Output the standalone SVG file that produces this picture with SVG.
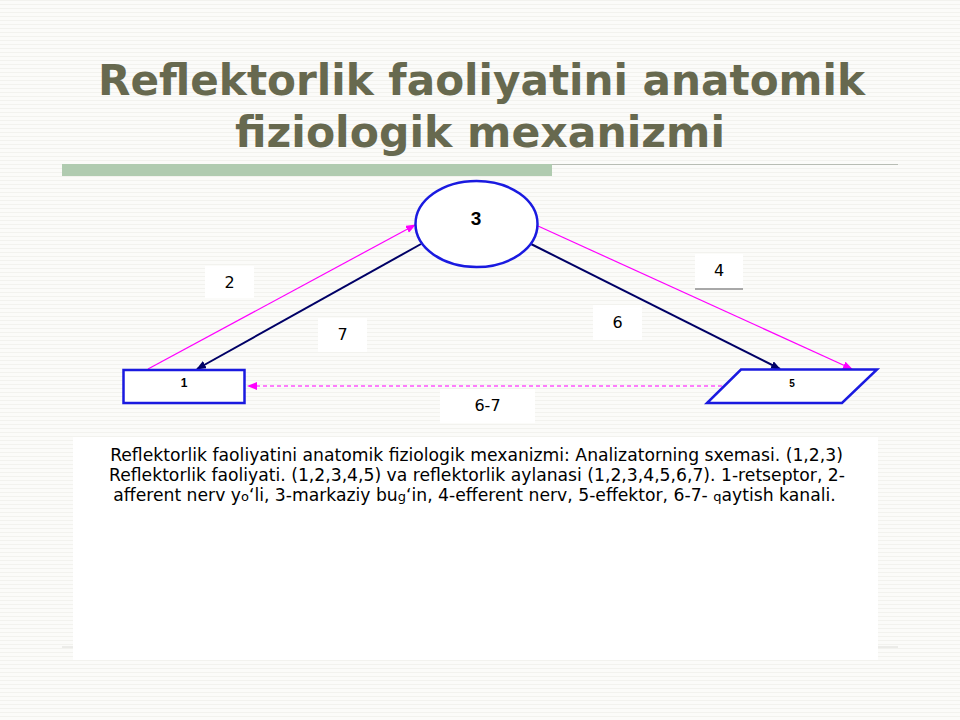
<svg xmlns="http://www.w3.org/2000/svg" width="960" height="720" viewBox="0 0 960 720">
<defs>
<pattern id="bg" width="4" height="4" patternUnits="userSpaceOnUse">
<rect width="4" height="4" fill="#fbfbf9"/>
<rect width="4" height="1" fill="#f2f2ee"/>
</pattern>
<marker id="am" markerWidth="10" markerHeight="8" refX="9" refY="4" orient="auto" markerUnits="userSpaceOnUse">
<path d="M0,0 L10,4 L0,8 z" fill="#ff00ff"/>
</marker>
<marker id="an" markerWidth="10" markerHeight="8" refX="9" refY="4" orient="auto" markerUnits="userSpaceOnUse">
<path d="M0,0 L10,4 L0,8 z" fill="#000066"/>
</marker>
</defs>
<style>
.title{font-family:"DejaVu Sans",Verdana,sans-serif;font-weight:bold;font-size:43px;fill:#67694f;text-anchor:middle}
.lbl{font-family:"DejaVu Sans",sans-serif;font-size:16px;fill:#000;text-anchor:middle}
.lb{fill:#ffffff}
.node{fill:#ffffff;stroke:#1a1ae0;stroke-width:2.5}
.body{font-family:"DejaVu Sans",sans-serif;font-size:17.2px;fill:#000;text-anchor:middle}
.mag{stroke:#ff00ff;stroke-width:1.2;fill:none}
.nav{stroke:#000066;stroke-width:2;fill:none}
</style>
<rect width="960" height="720" fill="url(#bg)"/>
<text class="title" x="481.5" y="95" textLength="767" lengthAdjust="spacingAndGlyphs">Reflektorlik faoliyatini anatomik</text>
<text class="title" x="480" y="147" textLength="490" lengthAdjust="spacingAndGlyphs">fiziologik mexanizmi</text>
<rect x="62" y="164" width="490" height="12" fill="#b0cbb0"/>
<line x1="552" y1="164.5" x2="898" y2="164.5" stroke="#b8bdb4" stroke-width="1"/>
<line x1="62" y1="647" x2="898" y2="647" stroke="#dcdcd8" stroke-width="1"/>
<rect x="73" y="437" width="805" height="223" fill="#ffffff"/>
<g id="labels">
<rect class="lb" x="205" y="266" width="49" height="32"/>
<text class="lbl" x="229.5" y="288">2</text>
<rect class="lb" x="318" y="318" width="49" height="34"/>
<text class="lbl" x="342.5" y="340">7</text>
<rect class="lb" x="593" y="305" width="49" height="35"/>
<text class="lbl" x="617.5" y="328">6</text>
<rect class="lb" x="695" y="254" width="48" height="34"/>
<line x1="695" y1="289" x2="743" y2="289" stroke="#a8a8a8" stroke-width="2"/>
<text class="lbl" x="719" y="276">4</text>
<rect class="lb" x="440" y="389" width="95" height="34"/>
<text class="lbl" x="487.5" y="411">6-7</text>
</g>
<g id="connectors">
<line class="mag" x1="148" y1="369" x2="415" y2="225" marker-end="url(#am)"/>
<line class="nav" x1="421" y1="244" x2="197" y2="369" marker-end="url(#an)"/>
<line class="mag" x1="538" y1="226" x2="852" y2="369" marker-end="url(#am)"/>
<line class="nav" x1="531" y1="244" x2="780" y2="369" marker-end="url(#an)"/>
<line class="mag" x1="722" y1="386" x2="248" y2="386" stroke-dasharray="4,3" marker-end="url(#am)"/>
</g>
<g id="node3">
<ellipse class="node" cx="476.5" cy="224" rx="61" ry="43"/>
<text x="476" y="225" font-family="Liberation Sans,Arial,sans-serif" font-weight="bold" font-size="19" text-anchor="middle">3</text>
</g>
<g id="node1">
<rect class="node" x="123.5" y="370" width="121" height="33"/>
<text x="184" y="387" font-family="Liberation Sans,Arial,sans-serif" font-weight="bold" font-size="12" text-anchor="middle">1</text>
</g>
<g id="node5">
<polygon class="node" points="741,369.5 877,369.5 842,403 707,403"/>
<text x="792" y="387" font-family="Liberation Sans,Arial,sans-serif" font-weight="bold" font-size="10" text-anchor="middle">5</text>
</g>
<g id="caption">
<text class="body" x="476.5" y="461">Reflektorlik faoliyatini anatomik fiziologik mexanizmi: Analizatorning sxemasi. (1,2,3)</text>
<text class="body" x="477" y="481">Reflektorlik faoliyati. (1,2,3,4,5) va reflektorlik aylanasi (1,2,3,4,5,6,7). 1-retseptor, 2-</text>
<text class="body" x="474.5" y="501">afferent nerv y<tspan font-size="13">o</tspan>‘li, 3-markaziy bu<tspan font-size="13">g</tspan>‘in, 4-efferent nerv, 5-effektor, 6-7- <tspan font-size="13">q</tspan>aytish kanali.</text>
</g>
</svg>
